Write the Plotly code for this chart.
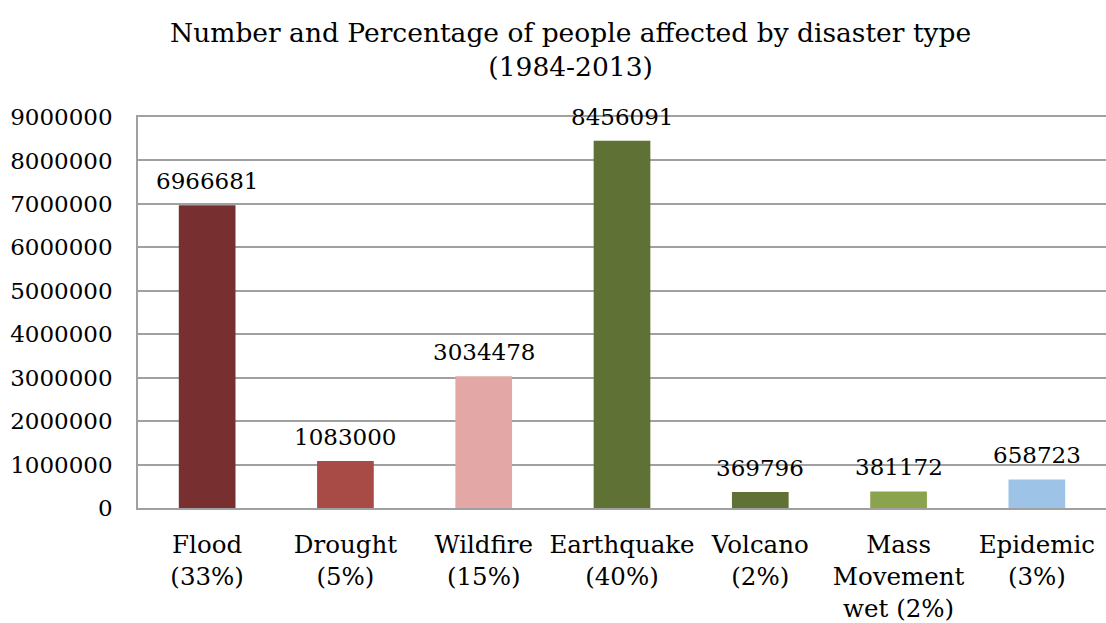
import plotly.graph_objects as go

# Disaster categories with share of people affected
categories = ["Flood<br>(33%)", "Drought<br>(5%)", "Wildfire<br>(15%)", "Earthquake<br>(40%)",
              "Volcano<br>(2%)", "Mass<br>Movement<br>wet (2%)", "Epidemic<br>(3%)"]
people_affected = [6966681, 1083000, 3034478, 8456091, 369796, 381172, 658723]
bar_colors = ["#772F2F", "#A84A46", "#E3A8A6", "#5F7135", "#5F7135", "#8BA34D", "#9DC3E6"]
y_ticks = [0, 1000000, 2000000, 3000000, 4000000, 5000000, 6000000, 7000000, 8000000, 9000000]

FONT = "DejaVu Serif"

fig = go.Figure(
    go.Bar(
        x=categories,
        y=people_affected,
        marker=dict(color=bar_colors, line=dict(width=0)),
        width=0.41,
        hoverinfo="skip",
    )
)

# Value labels above each bar
for cat, val in zip(categories, people_affected):
    fig.add_annotation(
        x=cat, y=val, text=str(val), showarrow=False,
        xref="x", yref="y", yanchor="bottom", yshift=9,
        font=dict(family=FONT, size=23, color="#000000"),
    )

# Two-line chart title above the plot area
fig.add_annotation(
    text="Number and Percentage of people affected by disaster type<br>(1984-2013)",
    xref="paper", yref="paper", x=0.447, y=1, xanchor="center", yanchor="bottom",
    yshift=33, showarrow=False,
    font=dict(family=FONT, size=26.5, color="#000000"),
)

fig.update_layout(
    width=1106, height=623,
    margin=dict(l=138, r=0, t=117, b=115),
    paper_bgcolor="#FFFFFF", plot_bgcolor="#FFFFFF",
    showlegend=False,
    font=dict(family=FONT, size=23, color="#000000"),
)

# mirror draws the top border, which doubles as the 9000000 gridline
fig.update_xaxes(
    showgrid=False, showline=True, linecolor="#A0A0A0", linewidth=1.5, mirror=True,
    ticks="", tickfont=dict(family=FONT, size=24.5), ticklabelstandoff=14,
)
fig.update_yaxes(
    range=[0, 9000000], tickvals=y_ticks, ticktext=[str(v) for v in y_ticks],
    showgrid=True, gridcolor="#A0A0A0", gridwidth=1.5,
    showline=True, linecolor="#A0A0A0", linewidth=1.5,
    zeroline=False, ticks="", tickfont=dict(family=FONT, size=23), ticklabelstandoff=19,
)

fig.write_html("out.html")
